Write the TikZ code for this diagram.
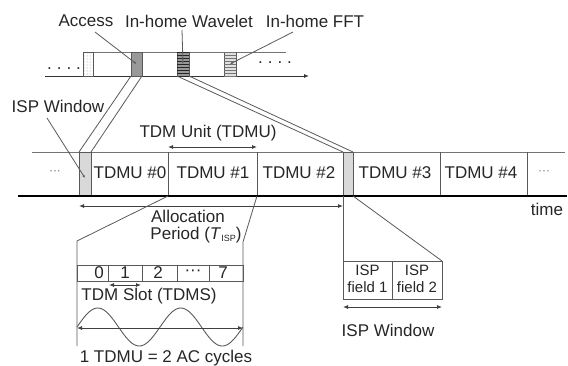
\documentclass[tikz,border=0pt]{standalone}
\usepackage{fontspec}
\setmainfont{Liberation Sans}
\usetikzlibrary{arrows.meta,patterns}
\begin{document}
\begin{tikzpicture}[x=1pt,y=-1pt,
  lbl/.style={font=\fontsize{17}{17}\selectfont, text=black!85, inner sep=0pt},
  fld/.style={font=\fontsize{15}{15}\selectfont, text=black!85, inner sep=0pt, anchor=base},
  ln/.style={draw=black!65, line width=0.8pt},
  thinln/.style={draw=black!55, line width=0.7pt},
  tip/.style={-{Latex[length=3pt,width=2.5pt]}},
  dbl/.style={{Latex[length=5pt,width=4pt]}-{Latex[length=5pt,width=4pt]}, line width=0.8pt, draw=black!75},
  blk/.style={inner sep=0pt, outer sep=0pt, draw=black!65, line width=0.8pt, anchor=north west},
  cell/.style={inner sep=0pt, outer sep=0pt, anchor=north west, minimum height=44pt},
]
\useasboundingbox (0,0) rectangle (568,365);

% ---------- top strip ----------
\coordinate (tTopL) at (83,52);
\coordinate (tTopR) at (286,52);
\coordinate (tBotL) at (45,76);
\coordinate (tBotR) at (309,76);
\draw[thinln] (tTopL) -- (tTopR);
\draw[line width=0.9pt, draw=black!80, -{Latex[length=5pt,width=4pt]}] (tBotL) -- (tBotR);

\node[blk, pattern=dots, pattern color=black!45, minimum width=10pt, minimum height=24pt] (stip) at (83,52) {};
\node[blk, fill=black!40, minimum width=11pt, minimum height=24pt] (acc) at (131,52) {};
\node[blk, fill=black!40, postaction={pattern=horizontal lines, pattern color=black!85}, minimum width=12pt, minimum height=24pt] (wav) at (177,52) {};
\node[blk, fill=black!12, postaction={pattern=horizontal lines, pattern color=black!55}, minimum width=12pt, minimum height=24pt] (fft) at (224,52) {};

\node[lbl] (dl) at (64,69) {.\hspace{5pt}.\hspace{5pt}.\hspace{5pt}.};
\node[lbl] (dr) at (275,63) {.\hspace{5pt}.\hspace{5pt}.\hspace{5pt}.};

\node[lbl] (accL) at (86,21) {Access};
\node[lbl] (wavL) at (189,21) {In-home Wavelet};
\node[lbl] (fftL) at (315,21) {In-home FFT};
\coordinate (accA) at (95,32);
\coordinate (wavA) at (182,30);
\coordinate (fftA) at (293,32);
\draw[ln, tip] (accA) -- (acc.center);
\draw[ln, tip] (wavA) -- (wav.center);
\draw[ln, tip] (fftA) -- (fft.center);

% ---------- middle strip ----------
\coordinate (mTopL) at (32,152);
\coordinate (mTopR) at (565,152);
\coordinate (mBotL) at (18,196);
\coordinate (mBotR) at (567,196);
\draw[thinln] (mTopL) -- (mTopR);

\node[blk, fill=black!15, minimum width=12pt, minimum height=44pt] (isp1) at (79,152) {};
\node[blk, fill=black!15, minimum width=10pt, minimum height=44pt] (isp2) at (343,152) {};

\node[cell, minimum width=77pt] (c0) at (91,152) {};
\node[cell, minimum width=89pt] (c1) at (168,152) {};
\node[cell, minimum width=86pt] (c2) at (257,152) {};
\node[cell, minimum width=87pt] (c3) at (353,152) {};
\node[cell, minimum width=87pt] (c4) at (440,152) {};
\node[cell, minimum width=38pt] (c5) at (527,152) {};
\foreach \c in {c1,c2,c4,c5} \draw[ln] (\c.north west) -- (\c.south west);

\draw[line width=2pt, draw=black] (mBotL) -- (mBotR);

\node[lbl] at (55,173) {\textcolor{black!55}{\fontsize{12}{12}\selectfont ···}};
\node[lbl] at (130,173) {TDMU \#0};
\node[lbl] at (213,173) {TDMU \#1};
\node[lbl] at (299,173) {TDMU \#2};
\node[lbl] at (395,173) {TDMU \#3};
\node[lbl] at (481,173) {TDMU \#4};
\node[lbl] at (544,173) {\textcolor{black!55}{\fontsize{12}{12}\selectfont ···}};

% double lines from top strip
\draw[ln] (acc.south west) -- (isp1.north west);
\draw[ln] (acc.south east) -- (isp1.north east);
\draw[ln] (wav.south west) -- (isp2.north west);
\draw[ln] (wav.south east) -- (isp2.north east);

% TDM Unit
\node[lbl] (tdmuL) at (208,133) {TDM Unit (TDMU)};
\draw[dbl] ([yshift=5pt]c1.north west) -- ([yshift=5pt]c1.north east);

% ISP window label
\node[lbl] (ispL) at (58,106) {ISP Window};
\coordinate (ispA) at (47,118);
\draw[ln, tip] (ispA) -- ([yshift=-4pt]isp1.center);

% Allocation period
\draw[dbl] ([yshift=-10pt]isp1.south west) -- ([yshift=-10pt]isp2.south west);
\node[lbl] at (188,216) {Allocation};
\node[lbl] at (196,235) {Period (\textit{T}\raisebox{-2pt}{\fontsize{9}{9}\selectfont ISP})};

\node[lbl] at (547,209) {time};

% ---------- lower-left expansion ----------
\coordinate (eL1) at (77,241);
\coordinate (eL2) at (77,346);
\coordinate (eR1) at (243,242);
\coordinate (eR2) at (243,346);
\draw[ln] (c1.south west) -- (eL1) -- (eL2);
\draw[ln] (c1.south east) -- (eR1) -- (eR2);

\node[blk, minimum width=166pt, minimum height=16pt] (slots) at (77,265) {};
\foreach \xx in {108,142,177,209} \draw[ln] (\xx,265) -- (\xx,281);
\coordinate (s1a) at (109,285);
\coordinate (s1b) at (141,285);
\node[lbl] at (99,273) {0};
\node[lbl] at (125,273) {1};
\node[lbl] at (158,273) {2};
\node[lbl] at (193,273) {···};
\node[lbl] at (223,273) {7};
\draw[dbl] (s1a) -- (s1b);
\node[lbl] at (149,296) {TDM Slot (TDMS)};

\draw[ln, line width=0.9pt] plot[domain=0:2, samples=100, smooth] ({77+83*\x}, {327-19*sin(360*\x)});
\coordinate (acA) at (77,328);
\coordinate (acB) at (243,328);
\draw[dbl] (acA) -- (acB);
\node[lbl] at (166,358) {1 TDMU = 2 AC cycles};

% ---------- right expansion ----------
\node[blk, minimum width=49pt, minimum height=38pt] (f1) at (343,261) {};
\node[blk, minimum width=50pt, minimum height=38pt] (f2) at (392,261) {};
\draw[ln] (isp2.south west) -- (f1.south west);
\draw[ln] (isp2.south east) -- (f2.north east);
\node[fld] at ([yshift=-14.5pt]f1.north) {ISP};
\node[fld] at ([yshift=-31pt]f1.north) {field 1};
\node[fld] at ([yshift=-14.5pt]f2.north) {ISP};
\node[fld] at ([yshift=-31pt]f2.north) {field 2};
\draw[dbl] ([yshift=-8pt]f1.south west) -- ([yshift=-8pt]f2.south east);
\node[lbl] at (388,330) {ISP Window};

\end{tikzpicture}
\end{document}
